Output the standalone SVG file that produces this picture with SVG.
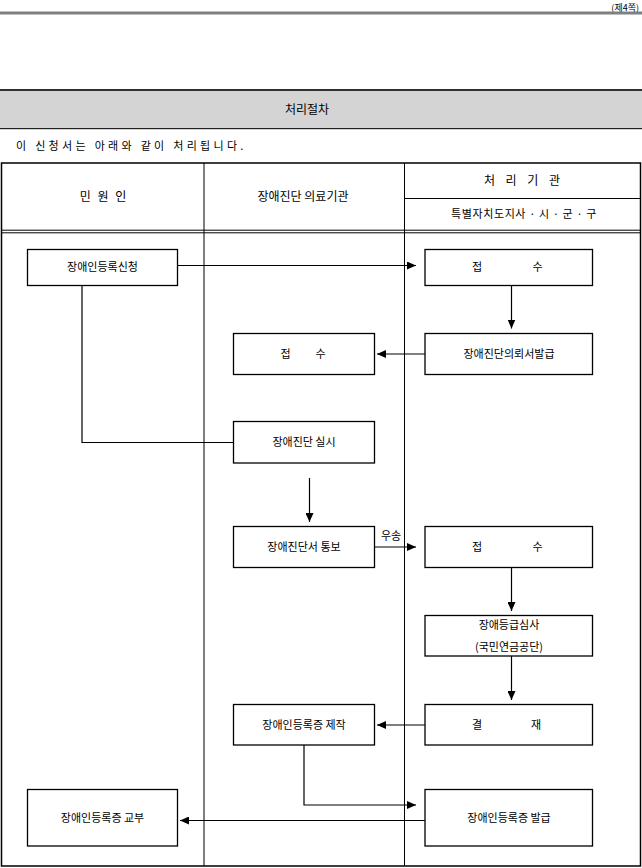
<svg xmlns="http://www.w3.org/2000/svg" width="642" height="868" viewBox="0 0 642 868">
<style>
text{font-family:"Noto Sans CJK KR","Noto Sans",sans-serif;font-size:11px;fill:#000}
.c{text-anchor:middle}
.box{fill:#fff;stroke:#000;stroke-width:1.3}
.ln{fill:none;stroke:#000;stroke-width:1.2}
.grid{fill:none;stroke:#000;stroke-width:1}
</style>
<defs>
<marker id="arr" viewBox="0 0 9 8" refX="9" refY="4" markerWidth="9" markerHeight="8" markerUnits="userSpaceOnUse" orient="auto">
<path d="M0,0 L9,4 L0,8 z" fill="#000"/>
</marker>
</defs>
<rect width="642" height="868" fill="#fff"/>
<g id="header">
<text x="639" y="10.5" style="font-size:9px;text-anchor:end">(제4쪽)</text>
<rect x="0" y="11.5" width="642" height="3" fill="#808080"/>
<rect x="0" y="89" width="642" height="2" fill="#303030"/>
<rect x="0" y="91" width="642" height="37.5" fill="#d4d4d4"/>
<rect x="0" y="128" width="642" height="1.2" fill="#202020"/>
<text x="307" y="114" class="c" style="font-size:12px">처리절차</text>
<text x="16" y="150" style="letter-spacing:3.3px">이 신청서는 아래와 같이 처리됩니다.</text>
</g>
<g id="table">
<rect x="1.5" y="163" width="639" height="703" fill="none" stroke="#000" stroke-width="1.5"/>
<line class="grid" x1="204" y1="163" x2="204" y2="866"/>
<line class="grid" x1="404.5" y1="163" x2="404.5" y2="866"/>
<line class="grid" x1="404.5" y1="198.5" x2="641" y2="198.5"/>
<line class="grid" x1="1" y1="230.2" x2="641" y2="230.2"/>
<line class="grid" x1="1" y1="232.8" x2="641" y2="232.8"/>
<text x="104" y="201" class="c" style="font-size:12px;letter-spacing:2px">민 원 인</text>
<text x="303" y="201" class="c" style="font-size:12px">장애진단 의료기관</text>
<text x="524" y="185" class="c" style="font-size:12px;letter-spacing:4px">처 리 기 관</text>
<text x="524" y="218" class="c" style="letter-spacing:0.6px">특별자치도지사 · 시 · 군 · 구</text>
</g>
<g id="connectors">
<path class="ln" d="M177.5,265.5 H416" marker-end="url(#arr)"/>
<path class="ln" d="M511.5,285.5 V328.5" marker-end="url(#arr)"/>
<path class="ln" d="M425,354 H377" marker-end="url(#arr)"/>
<path class="ln" d="M82,285.5 V442.5 H233.5"/>
<path class="ln" d="M309.5,478 V522" marker-end="url(#arr)"/>
<path class="ln" d="M374.5,547 H416" marker-end="url(#arr)"/>
<text x="391" y="540" class="c">우송</text>
<path class="ln" d="M511.5,567.5 V611" marker-end="url(#arr)"/>
<path class="ln" d="M511.5,656 V700" marker-end="url(#arr)"/>
<path class="ln" d="M425,725 H377" marker-end="url(#arr)"/>
<path class="ln" d="M304,745 V805 H416" marker-end="url(#arr)"/>
<path class="ln" d="M425,820.5 H180" marker-end="url(#arr)"/>
</g>
<g id="n1"><rect class="box" x="27.5" y="249.5" width="150" height="36"/><text x="102.5" y="271" class="c">장애인등록신청</text></g>
<g id="n2"><rect class="box" x="425" y="249.5" width="167.5" height="36"/><text x="477" y="271" class="c">접</text><text x="537.5" y="271" class="c">수</text></g>
<g id="n3"><rect class="box" x="425" y="333.5" width="167.5" height="41"/><text x="509" y="358" class="c">장애진단의뢰서발급</text></g>
<g id="n4"><rect class="box" x="233.5" y="333.5" width="141" height="41"/><text x="285.5" y="358" class="c">접</text><text x="320.5" y="358" class="c">수</text></g>
<g id="n5"><rect class="box" x="233.5" y="421.5" width="141" height="41.5"/><text x="304" y="446" class="c">장애진단 실시</text></g>
<g id="n6"><rect class="box" x="233.5" y="526.5" width="141" height="41"/><text x="304" y="551" class="c">장애진단서 통보</text></g>
<g id="n7"><rect class="box" x="425" y="526.5" width="167.5" height="41"/><text x="477" y="551" class="c">접</text><text x="537.5" y="551" class="c">수</text></g>
<g id="n8"><rect class="box" x="425" y="615.5" width="167.5" height="40.5"/><text x="509" y="629" class="c">장애등급심사</text><text x="509" y="651" class="c">(국민연금공단)</text></g>
<g id="n9"><rect class="box" x="425" y="704.5" width="167.5" height="40.5"/><text x="477" y="729" class="c">결</text><text x="536" y="729" class="c">재</text></g>
<g id="n10"><rect class="box" x="233.5" y="704.5" width="141" height="40.5"/><text x="304" y="729" class="c">장애인등록증 제작</text></g>
<g id="n11"><rect class="box" x="27.5" y="789.5" width="150" height="56.5"/><text x="102.5" y="822" class="c">장애인등록증 교부</text></g>
<g id="n12"><rect class="box" x="425" y="789.5" width="167.5" height="56.5"/><text x="509" y="822" class="c">장애인등록증 발급</text></g>
</svg>
